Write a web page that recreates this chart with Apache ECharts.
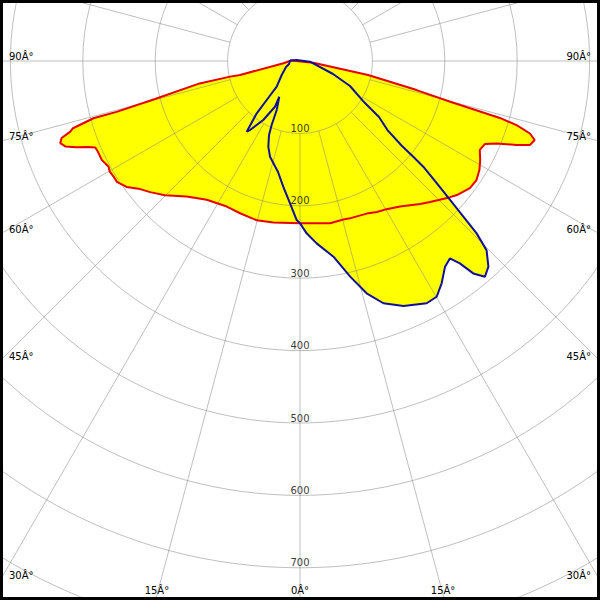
<!DOCTYPE html>
<html><head><meta charset="utf-8">
<script src="https://cdn.jsdelivr.net/npm/echarts@6/dist/echarts.min.js"></script>
<style>html,body{margin:0;padding:0;background:#fff}#c{width:600px;height:600px}</style>
</head><body><div id="c"></div>
<script>
// ---- data (angle in degrees from nadir, + = right; value = intensity) ----
const radiusTicks = [100, 200, 300, 400, 500, 600, 700];
const angleTicks = [-90, -75, -60, -45, -30, -15, 0, 15, 30, 45, 60, 75, 90];
const spokeAngles = [-165, -150, -135, -120, -105, -90, -75, -60, -45, -30, -15, 0, 15, 30, 45, 60, 75, 90, 105, 120, 135, 150, 165, 180];

const redAngle = [-93.2, 82.7, 78.4, 76.0, 74.8, 74.1, 73.5, 72.5, 71.4, 69.9, 68.8, 67.3, 65.8, 63.7, 61.2, 58.7, 56.0, 53.2, 49.5, 47.8, 42.7, 40.0, 34.5, 30.3, 27.0, 23.6, 17.6, 15.3, 10.5, 0,
  -9.4, -15.2, -21.5, -26.7, -33.9, -39.9, -45.2, -48.8, -51.3, -54.0, -56.6, -58.2, -59.8, -61.1, -63.5, -65.8, -67.1, -67.9, -68.9, -70.0, -71.1, -72.1, -72.9, -73.5, -74.5, -74.5, -75.3, -77.4, -77.4, -76.9, -82.2, -93.2];
const redValue = [12.4, 18.5, 96, 166, 215, 287, 312, 333, 342, 338, 321, 295, 280, 277, 284, 290, 294, 293, 285, 280, 265, 258, 244, 237, 234, 230, 228, 227, 228, 224,
  226, 228, 226, 225, 231, 244, 263, 275, 283, 296, 303, 303, 304, 302, 306, 306, 307, 316, 331, 345, 350, 346, 332, 327, 296, 263, 207, 142, 99, 85, 23, 12.4];

const blueAngle = [-92.9, -74.7, -66.8, -52.6, -42.2, -40.5, -39.6, -37.0, -35.9, -31.9, -28.7, -30.1, -25.4, -23.9, -22.7, -20.3, -17.4, -11.2, -7.6, -4.0, -1.2, 0,
  2.2, 5.2, 9.7, 13.1, 16.0, 19.0, 22.9, 27.6, 30.1, 32.5, 35.2, 37.2, 38.3, 39.2, 40.6, 42.5, 44.6, 45.7, 46.4, 47.2, 48.2, 49.4, 49.8, 50.2, 51.7, 54.7, 57.1, 63.4, 68.5, 86, -106.9, -92.9];
const blueValue = [13.8, 15.7, 21.0, 31.8, 47.9, 70.8, 93.8, 122.3, 117.7, 96, 72, 57, 75, 96.7, 110.8, 126.2, 138.5, 156.3, 175.1, 197.1, 219.7, 224.2,
  238.2, 252.9, 274.2, 305.8, 333.8, 353.9, 367.3, 377.6, 376.4, 364.1, 347.6, 342.4, 356.2, 378.6, 392.5, 385.2, 367, 340.9, 311.6, 282.5, 253.3, 224.3, 204.8, 183.4, 153.9, 133.7, 106.9, 77.2, 49, 13.8, 4.8, 13.8];

// ---- layout ----
const C = [300, 61];
const RMAX = 900, R1 = 651.6;
const FONT = 'DejaVu Sans';
const GRID = 'rgba(128,128,128,0.5)';

const redData = redAngle.map((a, i) => [redValue[i], a]);
const blueData = blueAngle.map((a, i) => [blueValue[i], a]);

function fillSeries(data) {
  return {
    type: 'custom', coordinateSystem: 'polar', data: data, z: 1, clip: false, silent: true,
    renderItem: function (params, api) {
      if (params.dataIndex !== 0) return null;
      return { type: 'polygon', shape: { points: data.map(p => api.coord(p)) }, style: { fill: '#ffff00', stroke: 'none' } };
    }
  };
}

const spokeSeries = {
  type: 'custom', coordinateSystem: 'polar', data: spokeAngles.map(a => [radiusTicks[0], a]), z: 2, clip: false, silent: true,
  renderItem: function (params, api) {
    const a = api.value(1);
    const p0 = api.coord([radiusTicks[0], a]);
    const p1 = api.coord([RMAX, a]);
    return { type: 'line', shape: { x1: p0[0], y1: p0[1], x2: p1[0], y2: p1[1] }, style: { stroke: GRID, lineWidth: 1 } };
  }
};

function angleLabels() {
  const L = 0, Rt = 600, B = 600;
  return angleTicks.map(a => {
    const rad = a * Math.PI / 180, dx = Math.sin(rad), dy = Math.cos(rad);
    let t = Infinity, side = null;
    if (dx < -1e-9) { const tt = (L - C[0]) / dx; if (tt < t) { t = tt; side = 'left'; } }
    if (dx > 1e-9) { const tt = (Rt - C[0]) / dx; if (tt < t) { t = tt; side = 'right'; } }
    if (dy > 1e-9) { const tt = (B - C[1]) / dy; if (tt < t) { t = tt; side = 'bottom'; } }
    const y = C[1] + dy * t;
    const st = { text: Math.abs(a) + 'Â°', font: '10px "' + FONT + '"', fill: '#000' };
    let x, yy;
    if (side === 'left') { x = 9; yy = y; st.align = 'left'; st.verticalAlign = 'bottom'; }
    else if (side === 'right') { x = 591; yy = y; st.align = 'right'; st.verticalAlign = 'bottom'; }
    else { yy = 595; x = C[0] + dx * ((yy - C[1]) / dy); st.align = 'center'; st.verticalAlign = 'bottom'; }
    return { type: 'text', x: x, y: yy, style: st, z: 50, silent: true };
  });
}

const chart = echarts.init(document.getElementById('c'), null, { renderer: 'svg', width: 600, height: 600 });
chart.setOption({
  animation: false,
  backgroundColor: '#ffffff',
  polar: { center: C, radius: R1 },
  angleAxis: {
    type: 'value', min: -180, max: 180, interval: 15, startAngle: 90, clockwise: false, z: 2,
    axisLine: { show: false }, axisTick: { show: false }, axisLabel: { show: false },
    splitLine: { show: false }
  },
  radiusAxis: {
    type: 'value', min: 0, max: RMAX, interval: 100, z: 2,
    axisLine: { show: false }, axisTick: { show: false }, axisLabel: { show: false },
    splitLine: { show: true, lineStyle: { color: GRID, width: 1 } }
  },
  series: [
    fillSeries(redData),
    fillSeries(blueData),
    spokeSeries,
    { type: 'line', coordinateSystem: 'polar', data: redData, symbol: 'none', clip: false, silent: true, z: 3,
      lineStyle: { color: '#e80000', width: 2 } },
    { type: 'line', coordinateSystem: 'polar', data: blueData, symbol: 'none', clip: false, silent: true, z: 4,
      lineStyle: { color: '#10109a', width: 2 } },
    { type: 'scatter', coordinateSystem: 'polar', data: radiusTicks.map(r => [r, 0]), symbolSize: 0, silent: true, z: 5,
      label: { show: true, position: 'top', distance: 0, formatter: p => String(p.value[0]), color: '#000', fontFamily: FONT, fontSize: 10 } }
  ],
  graphic: angleLabels().concat([
    { type: 'rect', shape: { x: 1.5, y: 1.5, width: 597, height: 597 }, style: { fill: 'none', stroke: '#000', lineWidth: 3 }, z: 100, silent: true }
  ])
});
</script>
</body></html>
